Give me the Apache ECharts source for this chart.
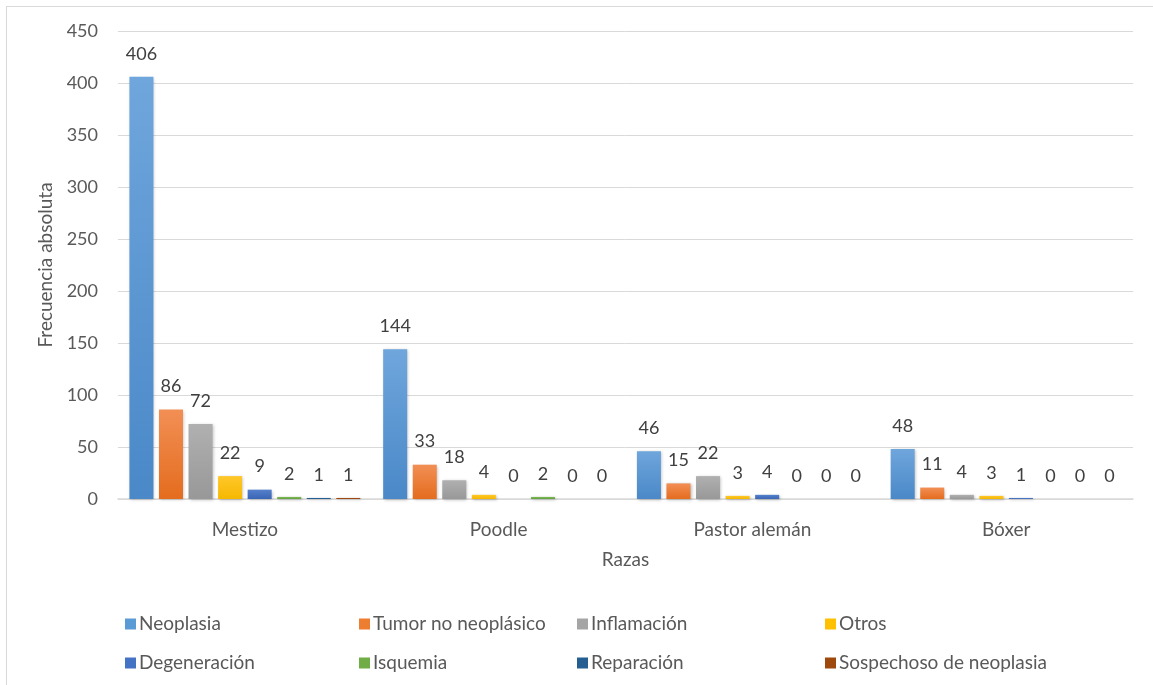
<!DOCTYPE html>
<html><head><meta charset="utf-8">
<script src="https://cdn.jsdelivr.net/npm/echarts@6/dist/echarts.min.js"></script>
<style>
html,body{margin:0;padding:0;background:#fff;overflow:hidden}
#frame{position:absolute;left:6px;top:6px;width:1200px;height:800px;border:1px solid #d9d9d9;box-sizing:border-box}
#c{position:absolute;left:0;top:0;width:1153px;height:685px}
</style></head>
<body>
<div id="frame"></div>
<div id="c"></div>
<script>
const categories = ['Mestizo', 'Poodle', 'Pastor alemán', 'Bóxer'];
const seriesNames = ['Neoplasia', 'Tumor no neoplásico', 'Inflamación', 'Otros', 'Degeneración', 'Isquemia', 'Reparación', 'Sospechoso de neoplasia'];
const neoplasia = [406, 144, 46, 48];
const tumorNoNeoplasico = [86, 33, 15, 11];
const inflamacion = [72, 18, 22, 4];
const otros = [22, 4, 3, 3];
const degeneracion = [9, 0, 4, 1];
const isquemia = [2, 2, 0, 0];
const reparacion = [1, 0, 0, 0];
const sospechoso = [1, 0, 0, 0];
const yTicks = [0, 50, 100, 150, 200, 250, 300, 350, 400, 450];

const values = [neoplasia, tumorNoNeoplasico, inflamacion, otros, degeneracion, isquemia, reparacion, sospechoso];
const colors = [
  ['#6fa6dc', '#4a88c8'],
  ['#f28f55', '#e46c1e'],
  ['#b0b0b0', '#989898'],
  ['#ffc72a', '#f5b800'],
  ['#5480cc', '#3a65b5'],
  ['#7fbb58', '#62a03c'],
  ['#2f6ba0', '#1f5282'],
  ['#ab5419', '#8e3f0b']
];
const baseColors = ['#5B9BD5', '#ED7D31', '#A5A5A5', '#FFC000', '#4472C4', '#70AD47', '#255E91', '#9E480E'];
const FONT = 'Lato';
const TXT = '#595959';

const chart = echarts.init(document.getElementById('c'), null, {renderer: 'canvas'});
const series = seriesNames.map((name, i) => ({
  name: name,
  type: 'bar',
  data: values[i],
  barGap: '23%',
  barCategoryGap: '9%',
  itemStyle: {
    color: new echarts.graphic.LinearGradient(0, 0, 0, 1, [
      {offset: 0, color: colors[i][0]},
      {offset: 1, color: colors[i][1]}
    ]),
    shadowBlur: 3,
    shadowColor: 'rgba(0,0,0,0.25)',
    shadowOffsetX: 1,
    shadowOffsetY: 1
  },
  label: {
    show: true,
    position: 'top',
    distance: 14,
    color: '#404040',
    fontFamily: FONT,
    fontSize: 18
  }
}));

const legendLefts = [120, 354, 572, 820];
const legends = legendLefts.map((l, col) => ({
  orient: 'vertical',
  left: l,
  top: 609,
  itemWidth: 11,
  itemHeight: 11,
  itemGap: 19,
  icon: 'rect',
  data: [
    {name: seriesNames[col], itemStyle: {color: baseColors[col]}},
    {name: seriesNames[col + 4], itemStyle: {color: baseColors[col + 4]}}
  ],
  textStyle: {color: TXT, fontFamily: FONT, fontSize: 19, lineHeight: 20, padding: [0, 0, 0, -2]}
}));

chart.setOption({
  animation: false,
  color: baseColors,
  grid: {left: 118, right: 20, top: 31, bottom: 186, containLabel: false},
  legend: legends,
  xAxis: {
    type: 'category',
    data: categories,
    name: 'Razas',
    nameLocation: 'middle',
    nameGap: 51,
    nameTextStyle: {color: TXT, fontFamily: FONT, fontSize: 19},
    axisLine: {lineStyle: {color: '#d9d9d9', width: 1.5}},
    axisTick: {show: false},
    axisLabel: {color: TXT, fontFamily: FONT, fontSize: 19, margin: 21}
  },
  yAxis: {
    type: 'value',
    min: 0,
    max: 450,
    interval: 50,
    name: 'Frecuencia absoluta',
    nameLocation: 'middle',
    nameGap: 61,
    nameTextStyle: {color: TXT, fontFamily: FONT, fontSize: 19},
    axisLine: {show: false},
    axisTick: {show: false},
    axisLabel: {color: TXT, fontFamily: FONT, fontSize: 18, margin: 20,
      formatter: v => yTicks.includes(v) ? String(v) : ''},
    splitLine: {lineStyle: {color: '#d9d9d9', width: 1}}
  },
  series: series
});
</script>
</body></html>
